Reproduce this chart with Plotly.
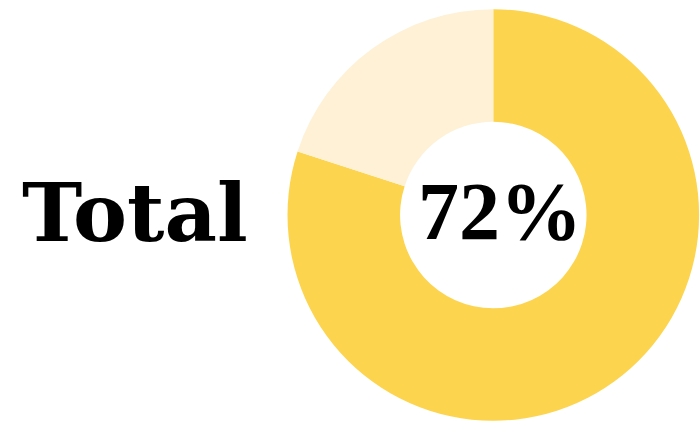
import plotly.graph_objects as go

labels = ["Filled", "Remaining"]
values = [80, 20]
colors = ["#FDD44E", "#FEF1D6"]
center_text = "72%"
side_text = "Total"

W, H = 700, 422
cx, cy, r = 493.3, 215.0, 205.8

fig = go.Figure(go.Pie(
    labels=labels, values=values, hole=0.453, sort=False, direction="clockwise",
    rotation=0, textinfo="none", hoverinfo="skip",
    marker=dict(colors=colors, line=dict(width=0)),
    domain=dict(x=[(cx - r) / W, (cx + r) / W], y=[(H - cy - r) / H, (H - cy + r) / H]),
))

fig.add_annotation(text=f"<b>{side_text}</b>", x=135 / W, y=(H - 213) / H, xref="paper", yref="paper",
                   showarrow=False, xanchor="center", yanchor="middle",
                   font=dict(family="DejaVu Serif", size=81, color="#000"))
fig.add_annotation(text=f"<b>{center_text}</b>", x=500 / W, y=(H - 211) / H, xref="paper", yref="paper",
                   showarrow=False, xanchor="center", yanchor="middle",
                   font=dict(family="Liberation Serif", size=82, color="#000"))

fig.update_layout(width=W, height=H, margin=dict(l=0, r=0, t=0, b=0), showlegend=False,
                  paper_bgcolor="white", plot_bgcolor="white")
fig.write_html("out.html")
